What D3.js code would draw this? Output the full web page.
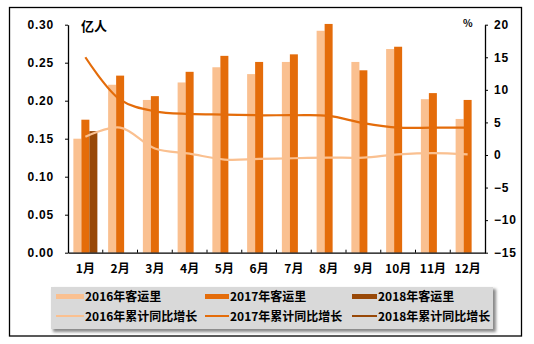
<!DOCTYPE html>
<html>
<head>
<meta charset="utf-8">
<script src="https://cdn.jsdelivr.net/npm/d3@7"></script>
<style>
  html, body { margin: 0; padding: 0; background: #fff; }
  svg { display: block; }
  text { font-family: "Noto Sans CJK SC", "Liberation Sans", sans-serif; font-weight: bold; fill: #000; }
</style>
</head>
<body>
<svg id="chart" width="534" height="344"></svg>
<script>
const months = ["1月","2月","3月","4月","5月","6月","7月","8月","9月","10月","11月","12月"];
const pax2016 = [0.150,0.221,0.201,0.224,0.244,0.235,0.251,0.292,0.251,0.268,0.202,0.176];
const pax2017 = [0.175,0.233,0.206,0.238,0.259,0.251,0.261,0.301,0.240,0.271,0.210,0.201];
const pax2018 = [0.160];
const growth2016 = [2.8,4.2,1.0,0.2,-0.7,-0.6,-0.5,-0.4,-0.4,0.1,0.3,0.1];
const growth2017 = [15.0,8.5,6.7,6.3,6.2,6.1,6.1,6.0,4.9,4.2,4.2,4.2];
const growth2018 = [3.0];
const leftTicks = [0,0.05,0.10,0.15,0.20,0.25,0.30];
const rightTicks = [-15,-10,-5,0,5,10,15,20];
const barNames = ["2016年客运里","2017年客运里","2018年客运里"];
const lineNames = ["2016年累计同比增长","2017年累计同比增长","2018年累计同比增长"];
const colors = ["#FAC090","#E46C0A","#984807"];

const svg = d3.select("#chart");
const L = 68, R = 485, T = 24.7, B = 252.7;

// outer border
svg.append("rect").attr("x",9.5).attr("y",7.5).attr("width",512).attr("height",328.5)
  .attr("fill","#fff").attr("stroke","#000").attr("stroke-width",1.3);

const x = d3.scaleBand().domain(months).range([L,R]).padding(0);
const sub = d3.scaleBand().domain([0,1,2]).range([0,24]).padding(0);
const yL = d3.scaleLinear().domain([0,0.30]).range([B,T]);
const yR = d3.scaleLinear().domain([-15,20]).range([B,T]);

// bars
const barSeries = [pax2016,pax2017,pax2018];
barSeries.forEach((arr,si)=>{
  svg.append("g").selectAll("rect").data(arr).join("rect")
    .attr("x",(d,i)=>x(months[i]) + (x.bandwidth()-24)/2 + sub(si))
    .attr("width",sub.bandwidth())
    .attr("y",d=>yL(d))
    .attr("height",d=>yL(0)-yL(d))
    .attr("fill",colors[si]);
});

// lines
const line = d3.line()
  .x((d,i)=>x(months[i]) + x.bandwidth()/2)
  .y(d=>yR(d))
  .curve(d3.curveCatmullRom.alpha(0.5));
[growth2016,growth2017,growth2018].forEach((arr,si)=>{
  svg.append("path").datum(arr).attr("d",line)
    .attr("fill","none").attr("stroke",colors[si]).attr("stroke-width",2.2)
    .attr("stroke-linejoin","round");
});

// left axis
const gL = svg.append("g").attr("transform",`translate(${L},0)`)
  .call(d3.axisLeft(yL).tickValues(leftTicks).tickFormat(d3.format(".2f")).tickSize(3).tickSizeOuter(0).tickPadding(11));
gL.select(".domain").attr("stroke","#000").attr("stroke-width",1.3);
gL.selectAll(".tick line").attr("stroke","#000");
gL.selectAll("text").attr("font-size",12).attr("letter-spacing","0.8px").attr("fill","#000")
  .style("font-family","'Liberation Sans', sans-serif");

// right axis
const gR = svg.append("g").attr("transform",`translate(${R},0)`)
  .call(d3.axisRight(yR).tickValues(rightTicks).tickSize(3).tickSizeOuter(0).tickPadding(6)
    .tickFormat(d=> d<0 ? "\u2212"+Math.abs(d) : String(d)));
gR.select(".domain").attr("stroke","#000").attr("stroke-width",1.3);
gR.selectAll(".tick line").attr("stroke","#000");
gR.selectAll("text").attr("font-size",12).attr("letter-spacing","0.8px").attr("fill","#000")
  .style("font-family","'Liberation Sans', sans-serif");

// bottom axis
const gB = svg.append("g").attr("transform",`translate(0,${B})`)
  .call(d3.axisBottom(x).tickSize(0).tickSizeOuter(0).tickPadding(12));
gB.select(".domain").attr("stroke","#000").attr("stroke-width",1.3);
gB.selectAll("text").attr("font-size",12).attr("fill","#000");
// inward category boundary ticks
svg.append("g").selectAll("line").data(months.slice(1)).join("line")
  .attr("x1",d=>x(d)).attr("x2",d=>x(d)).attr("y1",B).attr("y2",B-3)
  .attr("stroke","#000").attr("stroke-width",1);

// units
svg.append("text").attr("x",81).attr("y",31).attr("font-size",13).text("亿人");
svg.append("text").attr("x",463).attr("y",27).attr("font-size",10).text("%");

// legend
const defs = svg.append("defs");
const f = defs.append("filter").attr("id","sh").attr("x","-5%").attr("y","-20%").attr("width","115%").attr("height","150%");
f.append("feGaussianBlur").attr("stdDeviation",1.5);
svg.append("rect").attr("x",53).attr("y",289).attr("width",443).attr("height",43)
  .attr("fill","#888").attr("filter","url(#sh)");
svg.append("rect").attr("x",51).attr("y",287).attr("width",442).attr("height",42)
  .attr("fill","#D9D9D9");
const colX = [56,205,352];
const swW = [28,24,25];
barNames.forEach((n,i)=>{
  svg.append("rect").attr("x",colX[i]).attr("y",294).attr("width",swW[i]).attr("height",5).attr("fill",colors[i]);
  svg.append("text").attr("x",colX[i]+swW[i]+1).attr("y",301).attr("font-size",12).text(n);
});
lineNames.forEach((n,i)=>{
  svg.append("line").attr("x1",colX[i]).attr("x2",colX[i]+swW[i]).attr("y1",316).attr("y2",316)
    .attr("stroke",colors[i]).attr("stroke-width",2);
  svg.append("text").attr("x",colX[i]+swW[i]+1).attr("y",321).attr("font-size",12).text(n);
});
</script>
</body>
</html>
